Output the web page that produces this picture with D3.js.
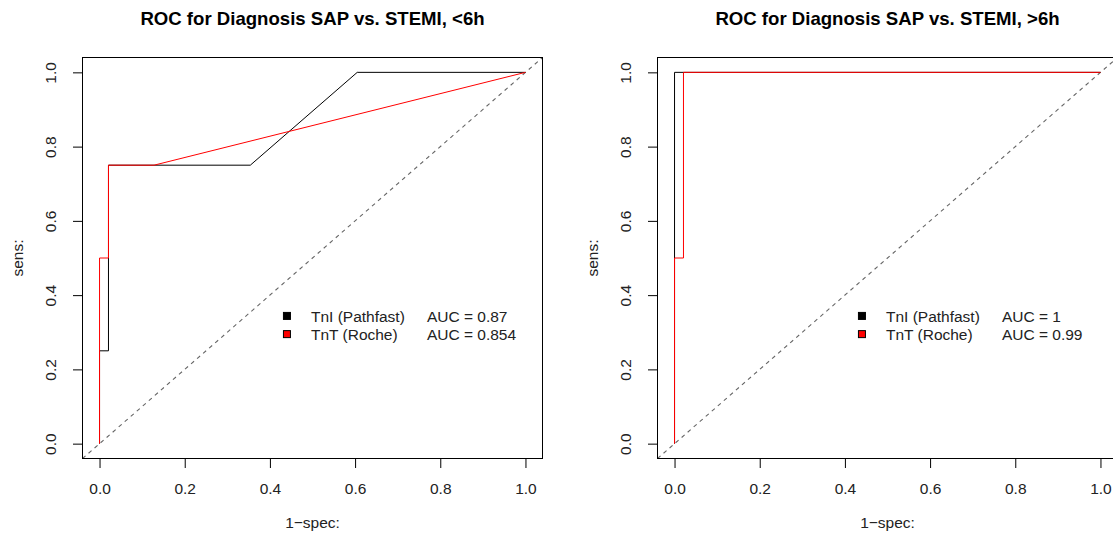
<!DOCTYPE html>
<html>
<head>
<meta charset="utf-8">
<script src="https://cdn.jsdelivr.net/npm/d3@7"></script>
<style>
  html, body { margin: 0; padding: 0; background: #fff; }
  svg { display: block; font-family: "Liberation Sans", Arial, sans-serif; }
</style>
</head>
<body>
<svg id="chart" width="1113" height="535"></svg>
<script>
// ---- Data ----
const titles = ["ROC for Diagnosis SAP vs. STEMI, <6h", "ROC for Diagnosis SAP vs. STEMI, >6h"];
const seriesNames = ["TnI (Pathfast)", "TnT (Roche)"];
const seriesColors = ["#000000", "#ff0000"];
const aucLeft = ["AUC = 0.87", "AUC = 0.854"];
const aucRight = ["AUC = 1", "AUC = 0.99"];
const tickValues = [0, 0.2, 0.4, 0.6, 0.8, 1.0];
const xLabel = "1\u2212spec:";
const yLabel = "sens:";

// <6h panel
const leftTnI_fpr = [0, 0, 0.021, 0.021, 0.354, 0.605, 1];
const leftTnI_tpr = [0, 0.25, 0.25, 0.75, 0.75, 1, 1];
const leftTnT_fpr = [0, 0, 0.021, 0.021, 0.128, 1];
const leftTnT_tpr = [0, 0.5, 0.5, 0.75, 0.75, 1];
// >6h panel
const rightTnI_fpr = [0, 0, 1];
const rightTnI_tpr = [0, 1, 1];
const rightTnT_fpr = [0, 0, 0.021, 0.021, 1];
const rightTnT_tpr = [0, 0.5, 0.5, 1, 1];

const panels = [
  { title: titles[0], left: 82.5, auc: aucLeft,
    series: [ {fpr: leftTnI_fpr, tpr: leftTnI_tpr}, {fpr: leftTnT_fpr, tpr: leftTnT_tpr} ] },
  { title: titles[1], left: 657.5, auc: aucRight,
    series: [ {fpr: rightTnI_fpr, tpr: rightTnI_tpr}, {fpr: rightTnT_fpr, tpr: rightTnT_tpr} ] }
];

const svg = d3.select("#chart");
const W = 460, plotTop = 57.5, plotBottom = 458.5;
const baseFont = 15.5;

panels.forEach((p, i) => {
  const x = d3.scaleLinear().domain([-0.04, 1.04]).range([p.left, p.left + W]);
  const y = d3.scaleLinear().domain([-0.04, 1.04]).range([plotBottom, plotTop]);
  const g = svg.append("g");

  const clipId = "clip" + i;
  g.append("clipPath").attr("id", clipId)
    .append("rect").attr("x", p.left).attr("y", plotTop).attr("width", W).attr("height", plotBottom - plotTop);

  // diagonal reference line
  g.append("line")
    .attr("clip-path", `url(#${clipId})`)
    .attr("x1", x(-0.04)).attr("y1", y(-0.04))
    .attr("x2", x(1.04)).attr("y2", y(1.04))
    .attr("stroke", "#666").attr("stroke-width", 1.1)
    .attr("stroke-dasharray", "4,4");

  // ROC curves
  p.series.forEach((s, k) => {
    const pts = s.fpr.map((f, j) => [f, s.tpr[j]]);
    g.append("path")
      .attr("d", d3.line().x(d => x(d[0])).y(d => y(d[1]))(pts))
      .attr("fill", "none")
      .attr("stroke", seriesColors[k])
      .attr("stroke-width", 1);
  });

  // box
  g.append("rect")
    .attr("x", p.left).attr("y", plotTop).attr("width", W).attr("height", plotBottom - plotTop)
    .attr("fill", "none").attr("stroke", "#000").attr("stroke-width", 1);

  // x axis
  const xa = g.append("g").attr("transform", `translate(0,${plotBottom})`)
    .call(d3.axisBottom(x).tickValues(tickValues).tickFormat(d3.format(".1f"))
      .tickSize(9.5).tickPadding(15));
  xa.select(".domain").remove();
  xa.selectAll("text").attr("font-size", baseFont).attr("fill", "#222")
    .attr("font-family", '"Liberation Sans", Arial, sans-serif');

  // y axis
  const ya = g.append("g").attr("transform", `translate(${p.left},0)`)
    .call(d3.axisLeft(y).tickValues(tickValues).tickFormat(d3.format(".1f"))
      .tickSize(9.5));
  ya.select(".domain").remove();
  ya.selectAll("text")
    .attr("font-size", baseFont).attr("fill", "#222")
    .attr("font-family", '"Liberation Sans", Arial, sans-serif')
    .attr("transform", "rotate(-90)")
    .attr("x", 0).attr("y", -26.5).attr("dy", 0)
    .attr("text-anchor", "middle");

  // title
  g.append("text")
    .attr("x", p.left + W / 2).attr("y", 25)
    .attr("text-anchor", "middle")
    .attr("font-size", 18.6).attr("font-weight", "bold").attr("fill", "#000")
    .text(p.title);

  // x label
  g.append("text")
    .attr("x", p.left + W / 2).attr("y", 528)
    .attr("text-anchor", "middle")
    .attr("font-size", baseFont).attr("fill", "#222")
    .text(xLabel);

  // y label
  g.append("text")
    .attr("transform", `translate(${p.left - 60},${(plotTop + plotBottom) / 2}) rotate(-90)`)
    .attr("text-anchor", "middle")
    .attr("font-size", baseFont).attr("fill", "#222")
    .text(yLabel);

  // legend
  const lx = x(0.44);
  const rowY = [y(0.344), y(0.295)];
  seriesNames.forEach((name, k) => {
    g.append("rect")
      .attr("x", lx - 3.5).attr("y", rowY[k] - 3.5)
      .attr("width", 7).attr("height", 7)
      .attr("fill", seriesColors[k]).attr("stroke", "#000").attr("stroke-width", 1);
    g.append("text")
      .attr("x", lx + 24).attr("y", rowY[k]).attr("dy", "0.36em")
      .attr("font-size", baseFont).attr("fill", "#222")
      .text(name);
    g.append("text")
      .attr("x", lx + 140).attr("y", rowY[k]).attr("dy", "0.36em")
      .attr("font-size", baseFont).attr("fill", "#222")
      .text(p.auc[k]);
  });
});
</script>
</body>
</html>
